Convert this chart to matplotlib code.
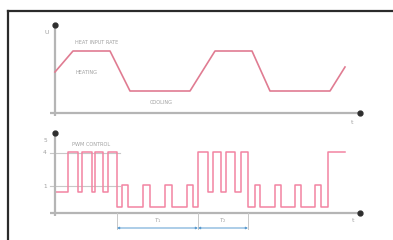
import matplotlib
matplotlib.use("Agg")
import matplotlib.pyplot as plt
from matplotlib.lines import Line2D

# top panel: temperature profile (time, level)
temp_t = [0.0, 1.8, 5.5, 7.5, 13.5, 16.0, 19.7, 21.5, 27.5, 29.0]
temp_v = [4.1, 6.2, 6.2, 2.2, 2.2, 6.2, 6.2, 2.2, 2.2, 4.6]

# bottom panel: control signal as step edges (time, level after edge)
sig_t = [0.0, 1.3, 2.3, 2.7, 3.7, 4.0, 4.8, 5.3, 6.2,
         6.7, 7.3, 8.8, 9.5, 11.0, 11.7, 13.2, 13.8, 14.3,
         15.3, 15.8, 16.6, 17.1, 18.0, 18.6, 19.3,
         20.0, 20.5, 22.0, 22.6, 24.0, 24.6, 26.0, 26.6, 27.3, 29.0]
sig_v = [2.1, 6.1, 2.1, 6.1, 2.1, 6.1, 2.1, 6.1, 0.6,
         2.8, 0.6, 2.8, 0.6, 2.8, 0.6, 2.8, 0.6, 6.1,
         2.1, 6.1, 2.1, 6.1, 2.1, 6.1, 0.6,
         2.8, 0.6, 2.8, 0.6, 2.8, 0.6, 2.8, 0.6, 6.1, 6.1]

level_ticks = [7.3, 6.0, 2.7]
level_labels = ["5", "4", "1"]
period_edges = [6.2, 14.3, 19.3]
period_labels = ["$T_1$", "$T_2$"]

W, H = 393, 240
fig = plt.figure(figsize=(W / 100, H / 100), dpi=100)
fig.patch.set_facecolor("white")

# outer frame (runs off the right and bottom edges)
fig.add_artist(Line2D([8 / W, 8 / W], [0, 1 - 11 / H], color="#2b2b2b", lw=1.6))
fig.add_artist(Line2D([8 / W, 1], [1 - 11 / H, 1 - 11 / H], color="#2b2b2b", lw=1.6))

axis_c = "#b5b5b5"
dot_c = "#2e2e2e"
txt_c = "#a0a0a0"
curve_c = "#e07c92"
wave_c = "#f284a2"


def make_ax(x0, y0, x1, y1, ylo, yhi):
    ax = fig.add_axes([x0 / W, 1 - y1 / H, (x1 - x0) / W, (y1 - y0) / H])
    ax.set_xlim(-1.5, 31.5)
    ax.set_ylim(ylo, yhi)
    ax.axis("off")
    return ax


# ---- top panel ----
ax1 = make_ax(40, 20, 370, 125, -1.2, 9.3)
ax1.plot([-0.5, 30.5], [0, 0], color=axis_c, lw=1.6, solid_capstyle="butt")
ax1.plot([0, 0], [-0.3, 8.8], color=axis_c, lw=1.6, solid_capstyle="butt")
ax1.plot([30.5], [0], "o", color=dot_c, ms=3.5)
ax1.plot([0], [8.8], "o", color=dot_c, ms=3.5)
ax1.plot(temp_t, temp_v, color=curve_c, lw=1.2)
ax1.text(-0.8, 8.0, "U", fontsize=4.5, color=txt_c, ha="center", va="center")
ax1.text(29.7, -0.9, "t", fontsize=4.5, color=txt_c, ha="center", va="center")
ax1.text(2.0, 7.1, "HEAT INPUT RATE", fontsize=3.6, color=txt_c, va="center")
ax1.text(2.0, 4.0, "HEATING", fontsize=3.6, color=txt_c, va="center")
ax1.text(9.5, 1.0, "COOLING", fontsize=3.6, color=txt_c, va="center")

# ---- bottom panel ----
ax2 = make_ax(40, 125, 370, 235, -2.2, 8.8)
for lv in level_ticks[1:]:
    ax2.plot([-0.5, 6.5], [lv, lv], color="#c8c8c8", lw=0.8)
ax2.step(sig_t, sig_v, where="post", color=wave_c, lw=1.1)
ax2.plot([-0.5, 30.5], [0, 0], color=axis_c, lw=1.6, solid_capstyle="butt")
ax2.plot([0, 0], [-0.3, 8.0], color=axis_c, lw=1.6, solid_capstyle="butt")
ax2.plot([30.5], [0], "o", color=dot_c, ms=3.5)
ax2.plot([0], [8.0], "o", color=dot_c, ms=3.5)
for lv, lb in zip(level_ticks, level_labels):
    ax2.text(-1.0, lv, lb, fontsize=4.2, color=txt_c, ha="center", va="center")
ax2.text(29.8, -0.7, "t", fontsize=4.5, color=txt_c, ha="center", va="center")
ax2.text(1.7, 6.9, "PWM CONTROL", fontsize=3.6, color=txt_c, va="center")

# period markers
for e in period_edges:
    ax2.plot([e, e], [0, -1.6], color="#c8c8c8", lw=0.7)
for a, b, lb in zip(period_edges[:-1], period_edges[1:], period_labels):
    ax2.annotate("", xy=(a, -1.5), xytext=(b, -1.5),
                 arrowprops=dict(arrowstyle="<|-|>", color="#5a9bd0", lw=0.7,
                                 mutation_scale=3, shrinkA=0, shrinkB=0))
    ax2.text((a + b) / 2, -0.75, lb, fontsize=4, color=txt_c,
             ha="center", va="center")

fig.savefig("out.png", dpi=100)
